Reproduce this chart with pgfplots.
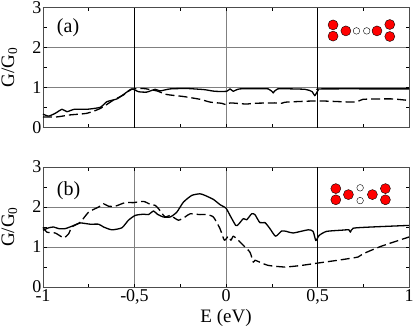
\documentclass[border=0pt]{standalone}
\usepackage{fontspec}
\setmainfont{Liberation Serif}
\usepackage{pgfplots}
\pgfplotsset{compat=1.18}
\definecolor{gridg}{gray}{0.5}
\pgfplotsset{panel/.style={
  scale only axis, width=366pt, height=120pt,
  xmin=-1, xmax=1, ymin=0, ymax=3,
  xtick={-1,-0.5,0,0.5,1}, ytick={0,1,2,3},
  yticklabels={0,1,2,3},
  minor x tick num=1, minor y tick num=1,
  tick align=inside, major tick length=3.5pt, minor tick length=3.5pt,
  tick style={black,line width=0.5pt},
  grid=major, grid style={gridg,line width=0.8pt},
  axis line style={black!70,line width=0.9pt},
  tick label style={font=\fontsize{18}{18}\selectfont},
  ylabel={G/G\textsubscript{0}},
  ylabel style={font=\fontsize{19}{19}\selectfont, at={(axis description cs:-0.092,0.5)}, anchor=center},
  yticklabel style={xshift=2pt},
  xticklabel style={yshift=1pt},
  clip=false,
}, 
sol/.style={black,line width=1.3pt,line join=round,smooth,tension=0.35,no markers},
das/.style={black,line width=1.3pt,line join=round,dash pattern=on 9pt off 4pt,smooth,tension=0.35,no markers},
red/.style={only marks,mark=*,mark size=5pt,mark options={fill=red,draw=black,line width=0.4pt}},
wht/.style={only marks,mark=*,mark size=3.3pt,mark options={fill=white,draw=black,line width=0.4pt}},
}
\begin{document}
\begin{tikzpicture}[x=1pt,y=1pt]
\path[use as bounding box] (0,0) rectangle (415,327);
\begin{axis}[panel, at={(43pt,199.3pt)}, anchor=south west, xticklabels={}]
\draw[black,line width=0.5pt] (axis cs:-0.5,0)--(axis cs:-0.5,3);
\draw[black,line width=0.5pt] (axis cs:0.5,0)--(axis cs:0.5,3);
\addplot[sol] coordinates {(-1,.34)(-.969,.29)(-.933,.36)(-.896,.46)(-.869,.40)(-.829,.46)(-.76,.46)(-.687,.51)(-.651,.65)(-.596,.72)(-.551,.86)(-.515,.97)(-.478,.90)(-.433,.89)(-.387,.96)(-.36,.92)(-.305,.97)(-.215,.98)(-.142,.96)(-.115,.95)(-.06,.91)(.004,.91)(.022,.97)(.04,.91)(.076,.97)(.231,.97)(.258,.87)(.282,.97)(.431,.96)(.471,.9)(.485,.8)(.504,.94)(.522,.97)(1,.97)};
\addplot[das] coordinates {(-1,.27)(-.924,.27)(-.851,.32)(-.76,.36)(-.687,.48)(-.615,.69)(-.56,.82)(-.515,.96)(-.451,.98)(-.378,.92)(-.324,.83)(-.233,.78)(-.142,.71)(-.087,.64)(-.024,.61)(.004,.57)(.022,.62)(.113,.59)(.149,.61)(.267,.62)(.304,.61)(.331,.64)(.504,.67)(.704,.64)(.749,.71)(.904,.72)(1,.68)};
\addplot[red] coordinates {(.585,2.57)(.585,2.29)(.655,2.42)(.825,2.42)(.895,2.58)(.895,2.28)};
\addplot[wht] coordinates {(.713,2.42)(.769,2.42)};
\node[font=\fontsize{20}{20}\selectfont] at (axis cs:-.863,2.49) {(a)};
\end{axis}
\begin{axis}[panel, at={(43pt,40pt)}, anchor=south west,
  xticklabels={-1,{-0,5},0,{0,5},1},
  xlabel={E (eV)}, xlabel style={font=\fontsize{19}{19}\selectfont, at={(axis description cs:0.5,-0.16)}, anchor=north}]
\draw[black,line width=0.5pt] (axis cs:0.5,0)--(axis cs:0.5,3);
\addplot[sol] coordinates {(-1,1.42)(-.969,1.48)(-.942,1.5)(-.915,1.46)(-.878,1.46)(-.842,1.52)(-.796,1.6)(-.742,1.57)(-.696,1.57)(-.669,1.5)(-.624,1.43)(-.569,1.48)(-.533,1.67)(-.496,1.79)(-.451,1.82)(-.424,1.81)(-.396,1.9)(-.375,1.82)(-.342,1.75)(-.305,1.75)(-.269,1.87)(-.233,2.12)(-.187,2.29)(-.142,2.33)(-.115,2.29)(-.069,2.19)(-.033,2.06)(0,1.97)(.022,1.79)(.053,1.54)(.067,1.56)(.095,1.71)(.113,1.68)(.14,1.83)(.158,1.81)(.185,1.61)(.213,1.61)(.24,1.46)(.271,1.27)(.304,1.4)(.331,1.39)(.367,1.35)(.449,1.43)(.476,1.39)(.491,1.16)(.509,1.29)(.549,1.39)(.631,1.42)(.671,1.43)(.68,1.37)(.695,1.47)(.795,1.5)(1,1.54)};
\addplot[das] coordinates {(-1,1.49)(-.978,1.37)(-.933,1.35)(-.887,1.23)(-.86,1.33)(-.842,1.5)(-.796,1.62)(-.751,1.87)(-.696,2)(-.669,2.08)(-.642,2.02)(-.605,2.02)(-.551,2.11)(-.505,2.11)(-.451,2.14)(-.415,2.07)(-.387,2.04)(-.369,1.96)(-.333,1.75)(-.305,1.79)(-.26,1.67)(-.224,1.75)(-.196,1.83)(-.142,1.81)(-.105,1.81)(-.069,1.75)(-.033,1.46)(-.009,1.17)(.013,1.27)(.027,1.17)(.04,1.27)(.067,1.17)(.095,1.04)(.131,.87)(.149,.62)(.158,.67)(.185,.62)(.231,.54)(.322,.5)(.413,.54)(.504,.6)(.613,.67)(.722,.75)(.749,.83)(.849,1.02)(1,1.25)};
\addplot[red] coordinates {(.6,2.46)(.6,2.18)(.669,2.31)(.8,2.31)(.871,2.46)(.871,2.18)};
\addplot[wht] coordinates {(.733,2.48)(.733,2.16)};
\node[font=\fontsize{20}{20}\selectfont] at (axis cs:-.86,2.42) {(b)};
\end{axis}
\end{tikzpicture}
\end{document}
